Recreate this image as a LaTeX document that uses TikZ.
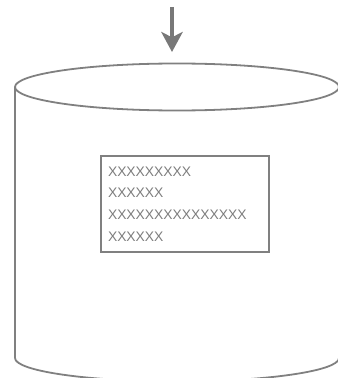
\documentclass[tikz,border=0pt]{standalone}
\usepackage{fontspec}
\setmainfont{Liberation Sans}
\usetikzlibrary{arrows.meta}
\definecolor{drumgray}{RGB}{128,128,128}
\definecolor{inkgray}{RGB}{120,120,120}
\definecolor{textgray}{RGB}{125,125,125}
\tikzset{
  drumline/.style={draw=drumgray, line width=1.35pt},
  feed/.style={draw=inkgray, line width=3.2pt, -{Stealth[length=15pt, width=16pt, inset=4pt]}},
  listbox/.style={draw=drumgray, line width=0.9pt, minimum height=72pt, text width=115.5pt,
    inner xsep=5.25pt, inner ysep=0pt, align=left, text=textgray,
    font=\fontsize{10.4pt}{16.3pt}\selectfont}
}

\begin{document}
\begin{tikzpicture}[x=0.75pt, y=-0.75pt]
			%%%%% START %%%%%
			\useasboundingbox (0, 0) rectangle (338, 378);
			
			\coordinate (in) at (172, 7);
			\coordinate (lid) at (172, 52);
			\draw[feed] (in) -- (lid);
			
			\draw[drumline] (177, 87) ellipse [x radius=162, y radius=23.5];
			\draw[drumline] (15, 87) -- (15, 358);
			\draw[drumline] (339, 87) -- (339, 358);
			\draw[drumline] (15, 358) arc [start angle=180, end angle=0, x radius=162, y radius=23.5];
			
			\node[listbox] (list) at (185, 204) {XXXXXXXXX\\XXXXXX\\XXXXXXXXXXXXXXX\\XXXXXX};
			%%%%% END %%%%%
\end{tikzpicture}
\end{document}
